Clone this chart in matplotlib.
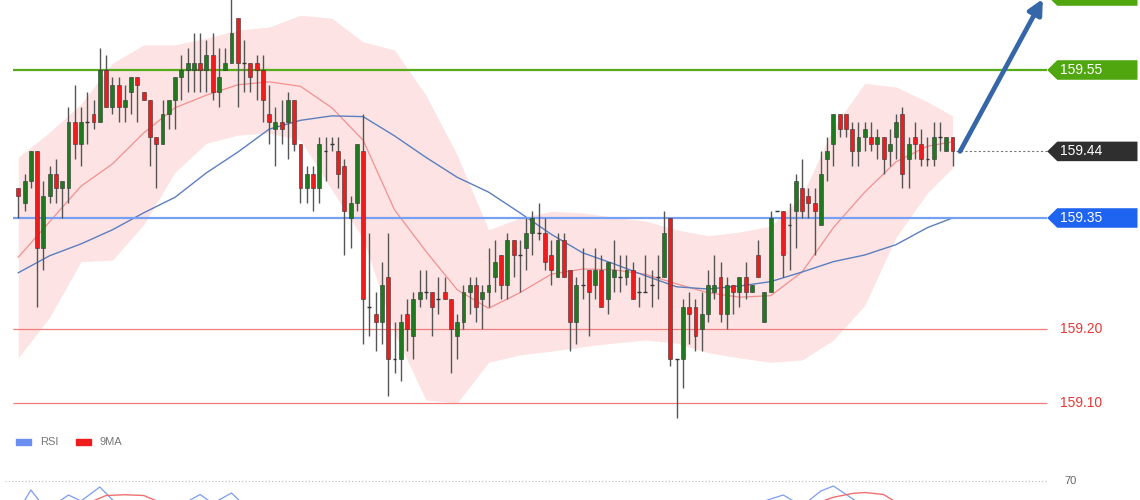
"""USD/JPY style intraday chart: candles, bands, levels and RSI strip."""

import numpy as np
import matplotlib

matplotlib.use("Agg")
import matplotlib.pyplot as plt
from matplotlib.patches import Polygon, Rectangle

plt.rcParams["font.family"] = ["Liberation Sans", "DejaVu Sans"]

# ---- candle data (one row of ten candles per line) ----
opens = [
    159.39, 159.37, 159.40, 159.44, 159.31, 159.38, 159.41, 159.39, 159.39, 159.48,
    159.45, 159.48, 159.49, 159.48, 159.55, 159.50, 159.53, 159.50, 159.52, 159.54,
    159.52, 159.51, 159.46, 159.45, 159.49, 159.51, 159.54, 159.55, 159.55, 159.56,
    159.55, 159.57, 159.52, 159.55, 159.56, 159.62, 159.56, 159.56, 159.56, 159.55,
    159.49, 159.47, 159.48, 159.48, 159.51, 159.45, 159.39, 159.41, 159.39, 159.44,
    159.45, 159.44, 159.42, 159.35, 159.37, 159.44, 159.23, 159.22, 159.21, 159.27,
    159.16, 159.16, 159.22, 159.19, 159.24, 159.25, 159.25, 159.24, 159.25, 159.24,
    159.19, 159.21, 159.25, 159.26, 159.24, 159.25, 159.27, 159.30, 159.26, 159.32,
    159.30, 159.31, 159.33, 159.33, 159.33, 159.30, 159.27, 159.32, 159.28, 159.21,
    159.26, 159.28, 159.26, 159.28, 159.24, 159.27, 159.27, 159.27, 159.28, 159.25,
    159.25, 159.26, 159.27, 159.27, 159.35, 159.16, 159.16, 159.23, 159.23, 159.20,
    159.22, 159.25, 159.27, 159.22, 159.26, 159.25, 159.27, 159.25, 159.30, 159.21,
    159.25, 159.36, 159.36, 159.34, 159.36, 159.39, 159.38, 159.37, 159.34, 159.43,
    159.45, 159.49, 159.49, 159.47, 159.44, 159.46, 159.46, 159.45, 159.46, 159.44,
    159.46, 159.49, 159.43, 159.46, 159.45, 159.43, 159.43, 159.46, 159.44, 159.46,
]
highs = [
    159.39, 159.41, 159.44, 159.44, 159.40, 159.42, 159.43, 159.40, 159.50, 159.53,
    159.50, 159.52, 159.51, 159.58, 159.57, 159.54, 159.54, 159.53, 159.54, 159.54,
    159.52, 159.51, 159.46, 159.51, 159.51, 159.54, 159.57, 159.58, 159.60, 159.60,
    159.59, 159.60, 159.58, 159.58, 159.65, 159.62, 159.59, 159.56, 159.57, 159.57,
    159.53, 159.50, 159.51, 159.52, 159.51, 159.45, 159.42, 159.42, 159.46, 159.46,
    159.46, 159.46, 159.43, 159.38, 159.45, 159.49, 159.33, 159.25, 159.29, 159.33,
    159.21, 159.22, 159.24, 159.25, 159.28, 159.28, 159.25, 159.27, 159.27, 159.24,
    159.22, 159.26, 159.27, 159.27, 159.26, 159.31, 159.32, 159.30, 159.33, 159.32,
    159.32, 159.35, 159.36, 159.37, 159.35, 159.32, 159.33, 159.33, 159.28, 159.27,
    159.31, 159.28, 159.31, 159.30, 159.29, 159.32, 159.30, 159.30, 159.29, 159.27,
    159.30, 159.28, 159.30, 159.36, 159.35, 159.16, 159.24, 159.25, 159.24, 159.25,
    159.28, 159.30, 159.29, 159.27, 159.26, 159.27, 159.29, 159.26, 159.32, 159.25,
    159.36, 159.36, 159.36, 159.37, 159.41, 159.43, 159.39, 159.39, 159.44, 159.46,
    159.49, 159.49, 159.49, 159.48, 159.48, 159.48, 159.48, 159.47, 159.46, 159.47,
    159.49, 159.50, 159.46, 159.48, 159.47, 159.46, 159.48, 159.48, 159.46, 159.46,
]
lows = [
    159.35, 159.36, 159.39, 159.23, 159.28, 159.37, 159.37, 159.35, 159.37, 159.43,
    159.42, 159.45, 159.47, 159.48, 159.50, 159.49, 159.48, 159.48, 159.49, 159.48,
    159.51, 159.42, 159.39, 159.45, 159.47, 159.47, 159.51, 159.52, 159.52, 159.52,
    159.52, 159.51, 159.50, 159.55, 159.56, 159.50, 159.52, 159.52, 159.51, 159.48,
    159.45, 159.42, 159.45, 159.43, 159.44, 159.37, 159.37, 159.36, 159.37, 159.40,
    159.44, 159.39, 159.30, 159.31, 159.36, 159.18, 159.19, 159.17, 159.18, 159.11,
    159.14, 159.13, 159.17, 159.16, 159.23, 159.24, 159.19, 159.22, 159.24, 159.14,
    159.16, 159.20, 159.22, 159.21, 159.20, 159.23, 159.25, 159.24, 159.24, 159.27,
    159.25, 159.28, 159.30, 159.32, 159.28, 159.26, 159.27, 159.27, 159.17, 159.18,
    159.24, 159.19, 159.24, 159.23, 159.22, 159.25, 159.25, 159.26, 159.24, 159.23,
    159.25, 159.23, 159.24, 159.27, 159.15, 159.08, 159.12, 159.18, 159.17, 159.17,
    159.21, 159.24, 159.21, 159.20, 159.22, 159.23, 159.24, 159.25, 159.27, 159.21,
    159.25, 159.36, 159.27, 159.28, 159.31, 159.35, 159.35, 159.30, 159.34, 159.40,
    159.42, 159.46, 159.46, 159.42, 159.42, 159.44, 159.44, 159.43, 159.41, 159.42,
    159.43, 159.39, 159.39, 159.43, 159.42, 159.42, 159.42, 159.44, 159.44, 159.42,
]
closes = [
    159.38, 159.40, 159.44, 159.31, 159.38, 159.41, 159.39, 159.40, 159.48, 159.45,
    159.48, 159.48, 159.48, 159.55, 159.50, 159.53, 159.50, 159.51, 159.54, 159.53,
    159.51, 159.46, 159.45, 159.49, 159.51, 159.54, 159.55, 159.56, 159.56, 159.55,
    159.57, 159.52, 159.54, 159.56, 159.60, 159.56, 159.56, 159.54, 159.55, 159.51,
    159.48, 159.48, 159.47, 159.51, 159.45, 159.39, 159.41, 159.39, 159.45, 159.44,
    159.45, 159.41, 159.36, 159.37, 159.45, 159.24, 159.23, 159.21, 159.26, 159.16,
    159.16, 159.21, 159.20, 159.24, 159.25, 159.25, 159.23, 159.24, 159.24, 159.20,
    159.21, 159.25, 159.26, 159.23, 159.25, 159.26, 159.29, 159.26, 159.32, 159.30,
    159.30, 159.33, 159.35, 159.33, 159.29, 159.28, 159.32, 159.27, 159.21, 159.26,
    159.26, 159.25, 159.28, 159.23, 159.29, 159.28, 159.27, 159.28, 159.24, 159.25,
    159.25, 159.26, 159.27, 159.33, 159.16, 159.16, 159.23, 159.22, 159.19, 159.22,
    159.26, 159.26, 159.22, 159.26, 159.25, 159.27, 159.25, 159.26, 159.27, 159.25,
    159.35, 159.36, 159.30, 159.34, 159.40, 159.36, 159.37, 159.36, 159.41, 159.44,
    159.49, 159.47, 159.47, 159.44, 159.46, 159.47, 159.45, 159.46, 159.43, 159.45,
    159.48, 159.41, 159.45, 159.45, 159.43, 159.43, 159.46, 159.46, 159.46, 159.44,
]

# ---- band and moving averages, read at every fifth candle ----
band_idx = [0, 5, 10, 15, 20, 25, 30, 35, 40, 45, 50, 55, 60, 65, 70, 75,
            80, 85, 90, 95, 100, 105, 110, 115, 120, 125, 130, 135, 140, 145, 149]
band_upper = [159.432, 159.466, 159.504, 159.559, 159.584, 159.584, 159.593, 159.604,
              159.608, 159.624, 159.620, 159.588, 159.577, 159.516, 159.435, 159.334,
              159.350, 159.359, 159.357, 159.351, 159.346, 159.334, 159.326, 159.331,
              159.339, 159.380, 159.472, 159.532, 159.527, 159.507, 159.488]
band_lower = [159.161, 159.216, 159.291, 159.293, 159.341, 159.412, 159.451, 159.462,
              159.465, 159.455, 159.388, 159.322, 159.195, 159.104, 159.100, 159.155,
              159.165, 159.170, 159.176, 159.181, 159.185, 159.181, 159.168, 159.161,
              159.155, 159.158, 159.185, 159.232, 159.324, 159.384, 159.418]
ma_fast = [159.297, 159.345, 159.393, 159.423, 159.465, 159.499, 159.516, 159.530,
           159.534, 159.528, 159.499, 159.455, 159.361, 159.305, 159.253, 159.228,
           159.249, 159.274, 159.281, 159.280, 159.274, 159.261, 159.249, 159.243,
           159.245, 159.277, 159.337, 159.385, 159.426, 159.447, 159.453]
ma_slow = [159.276, 159.299, 159.315, 159.334, 159.357, 159.378, 159.411, 159.439,
           159.470, 159.482, 159.488, 159.487, 159.461, 159.432, 159.405, 159.385,
           159.357, 159.328, 159.303, 159.288, 159.272, 159.257, 159.254, 159.258,
           159.264, 159.277, 159.291, 159.300, 159.314, 159.337, 159.350]

# ---- horizontal levels and labels ----
resistance = 159.55
support = 159.35
last_price = 159.44
lower_levels = [159.20, 159.10]
target = 159.65

# ---- RSI strip: only the tops above the frame edge show (nan = hidden stretch) ----
nan = np.nan
rsi_idx = [0, 2, 4, 6, 8, 10, 13, 16, 20, 25, 29, 31, 34, 37, 60,
           117, 119, 122, 125, 128, 130, 133, 136]
rsi_vals = [58, 66.4, 60, 61, 64.4, 62, 67.6, 60, 57, 59, 64.6, 61, 65.2, 58, nan,
            58, 62, 64.4, 60, 66, 68, 63, 58]
rsi_ma_idx = [10, 14, 17, 20, 24, 60, 126, 130, 133, 135, 138, 141]
rsi_ma_vals = [60, 64.2, 64.5, 64.2, 60, nan, 60, 63.5, 65, 65.4, 64.6, 60]

GREEN_BODY = "#1f7a1f"
RED_BODY = "#ee1c1c"

fig = plt.figure(figsize=(11.4, 5), dpi=100)
fig.patch.set_facecolor("white")
ax = fig.add_axes([0, 80 / 500, 1, 420 / 500])
ax.set_xlim(-2.92, 178.9)
ax.set_ylim(159.077, 159.6446)
ax.axis("off")

ax.fill_between(band_idx, band_lower, band_upper, color="#fde3e3", lw=0, zorder=1)
ax.plot(band_idx, ma_fast, color="#f29090", lw=0.9, zorder=2)
ax.plot(band_idx, ma_slow, color="#5b7fbf", lw=1.0, zorder=2)

# levels
ax.hlines(resistance, -0.85, 164.1, color="#55ab1a", lw=1.6, zorder=3)
ax.hlines(support, -0.85, 164.1, color="#76a0f3", lw=1.6, zorder=3)
for lvl in lower_levels:
    ax.hlines(lvl, -0.85, 164.1, color="#f07c7c", lw=0.9, zorder=3)
ax.hlines(last_price, 149.6, 164.1, color="#777777", lw=0.8, linestyles=(0, (2, 2)), zorder=3)

# candles
o = np.array(opens)
h = np.array(highs)
l = np.array(lows)
c = np.array(closes)
idx = np.arange(len(o))
ax.vlines(idx, l, h, color="#555555", lw=1.0, zorder=4)
up = c > o
down = c < o
flat = c == o
body_w = 0.62
ax.bar(idx[up], (c - o)[up], bottom=o[up], width=body_w, color=GREEN_BODY,
       edgecolor="#333333", linewidth=0.4, zorder=5)
ax.bar(idx[down], (o - c)[down], bottom=c[down], width=body_w, color=RED_BODY,
       edgecolor="#333333", linewidth=0.4, zorder=5)
ax.hlines(c[flat], idx[flat] - body_w / 2, idx[flat] + body_w / 2, color="#333333",
          lw=1.0, zorder=5)

# price tags on the right
tag_h = 0.0132


def price_tag(level, face, text=None, text_color="white"):
    pts = [(164.1, level), (165.7, level + tag_h), (178.5, level + tag_h),
           (178.5, level - tag_h), (165.7, level - tag_h)]
    ax.add_patch(Polygon(pts, closed=True, facecolor=face, edgecolor="none", zorder=6))
    if text:
        ax.text(166.2, level, text, color=text_color, fontsize=10, va="center",
                ha="left", zorder=7)


# the target tag sits above the frame; only its lower edge shows
price_tag(target, "#4fa60f")
price_tag(resistance, "#4fa60f", f"{resistance:.2f}")
price_tag(last_price, "#2f2f2f", f"{last_price:.2f}")
price_tag(support, "#1f64f0", f"{support:.2f}")
for lvl in lower_levels:
    ax.text(166.2, lvl, f"{lvl:.2f}", color="#e53935", fontsize=10, va="center",
            ha="left", zorder=7)

ax.annotate("", xy=(163.4, 159.646), xytext=(150.2, last_price),
            arrowprops=dict(arrowstyle="-|>", lw=3.4, color="#3566a8",
                            mutation_scale=22, shrinkA=0, shrinkB=0),
            zorder=8, annotation_clip=False)

# RSI strip: axes reaches below the figure, so the figure edge cuts the lines
rsi_ax = fig.add_axes([0, -0.3, 1, 0.46])
rsi_ax.set_xlim(-2.92, 178.9)
rsi_ax.set_ylim(2.4, 94.4)
rsi_ax.axis("off")
rsi_ax.hlines(70, -2.1, 164.1, color="#bbbbbb", lw=0.8, linestyles=(0, (1, 2)))
rsi_ax.text(166.8, 70, "70", color="#666666", fontsize=8, va="center", ha="left")
rsi_ax.plot(rsi_idx, rsi_vals, color="#7b9cf0", lw=0.9)
rsi_ax.plot(rsi_ma_idx, rsi_ma_vals, color="#f07070", lw=1.0)

leg_y = 58 / 500
fig.patches.append(Rectangle((16 / 1140, leg_y - 3 / 500), 15 / 1140, 6 / 500,
                             transform=fig.transFigure, color="#6a8ff0"))
fig.text(40 / 1140, leg_y, "RSI", color="#777777", fontsize=8, va="center", ha="left")
fig.patches.append(Rectangle((76 / 1140, leg_y - 3 / 500), 15 / 1140, 6 / 500,
                             transform=fig.transFigure, color="#ee1c1c"))
fig.text(100 / 1140, leg_y, "9MA", color="#777777", fontsize=8, va="center", ha="left")

fig.savefig("out.png", dpi=100)
plt.close(fig)
